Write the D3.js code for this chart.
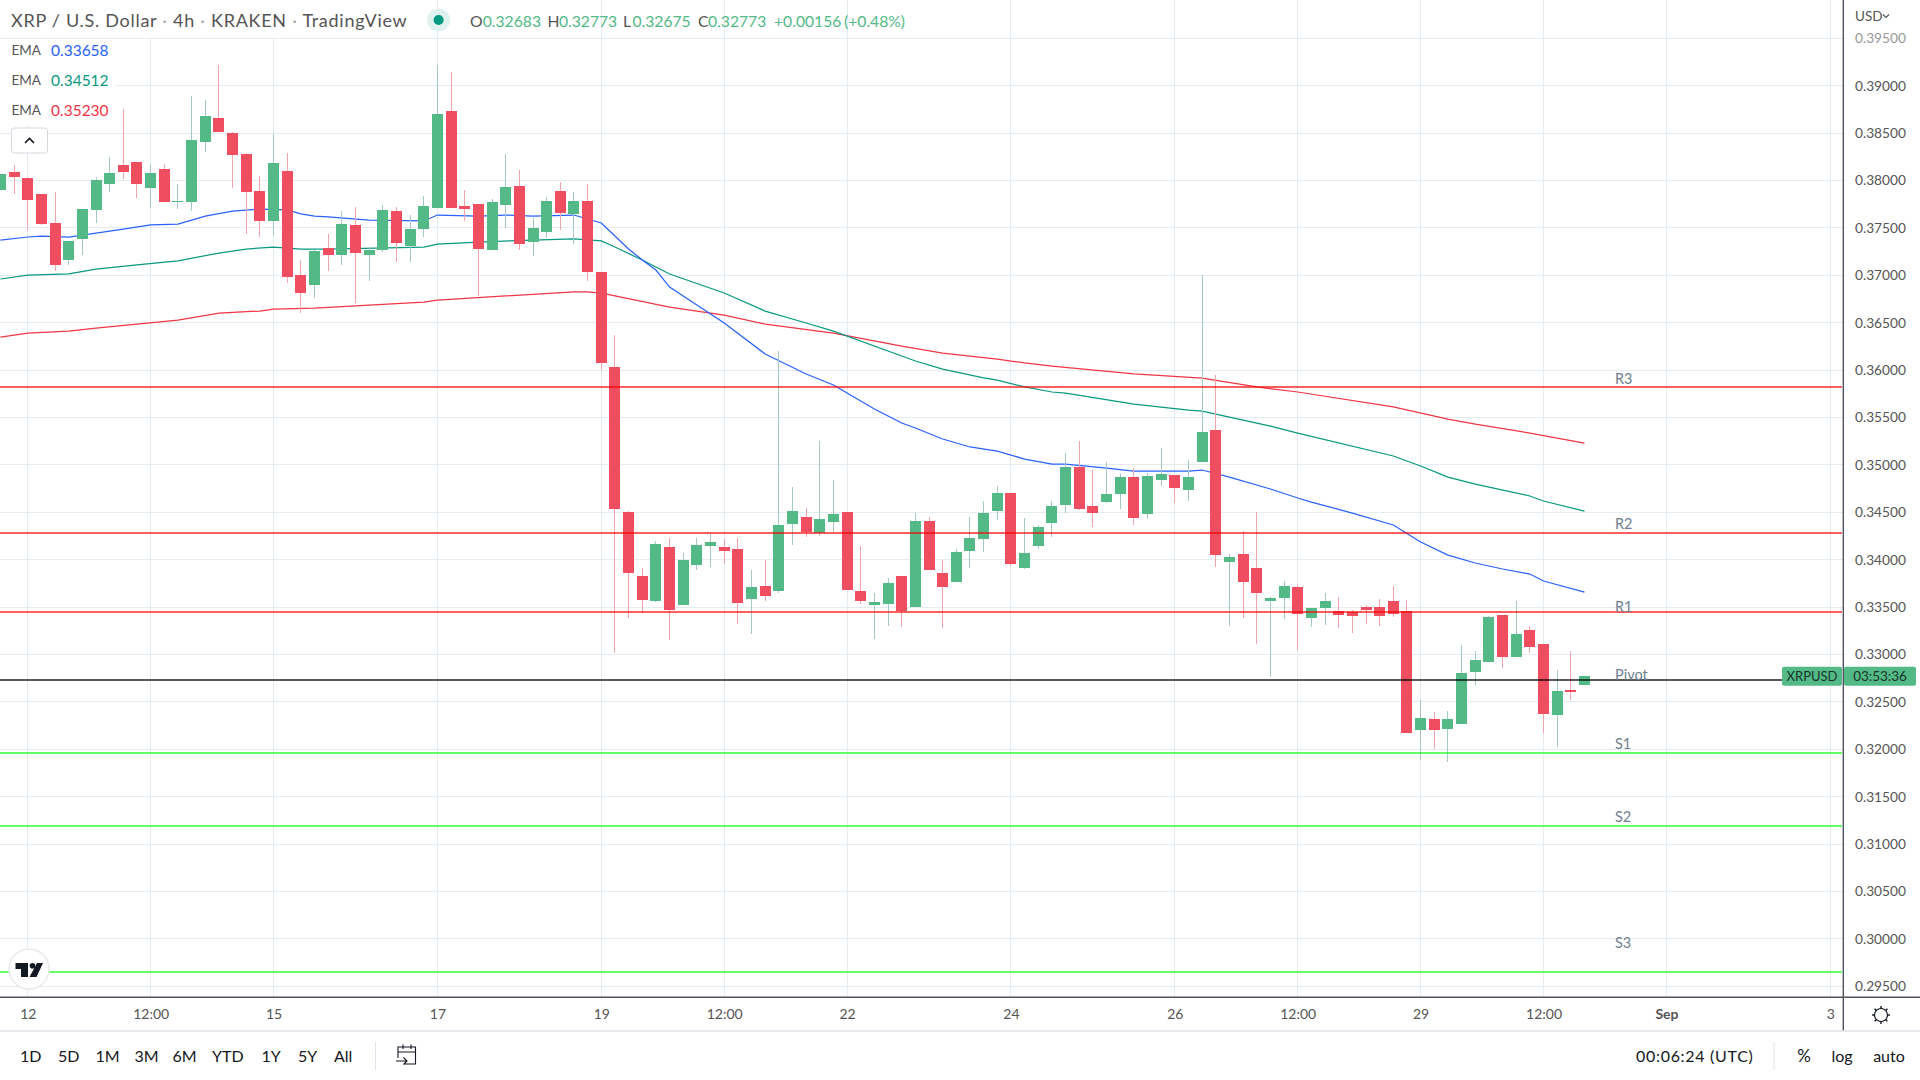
<!DOCTYPE html>
<html>
<head>
<meta charset="utf-8">
<title>XRP / U.S. Dollar</title>
<script src="https://cdnjs.cloudflare.com/ajax/libs/d3/7.8.5/d3.min.js"></script>
<style>
    html, body { margin: 0; padding: 0; background: #fff; }
    svg { display: block; }
    text { font-family: "Lato", sans-serif; }
</style>
</head>
<body>
<svg id="svgVis" width="1920" height="1080"></svg>
<script>
// Bar numbers count 4h candles from 12 Aug 00:00 UTC
const FIRST_BAR = -2;
const opens = [
    0.37900, 0.38090, 0.38026, 0.37857, 0.37552, 0.37161, 0.37383, 0.37689, 0.37963, 0.38163,
    0.38195, 0.37921, 0.38121, 0.37773, 0.37773, 0.38406, 0.38659, 0.38501, 0.38279, 0.37889,
    0.37573, 0.38100, 0.37003, 0.36897, 0.37288, 0.37214, 0.37531, 0.37214, 0.37267, 0.37678,
    0.37309, 0.37488, 0.37710, 0.38733, 0.37731, 0.37752, 0.37267, 0.37741, 0.37942, 0.37351,
    0.37457, 0.37889, 0.37647, 0.37784, 0.37035, 0.36033, 0.34503, 0.33828, 0.33564, 0.34134,
    0.33522, 0.33944, 0.34144, 0.34134, 0.34113, 0.33585, 0.33722, 0.33670, 0.34376, 0.34450,
    0.34281, 0.34397, 0.34503, 0.33670, 0.33522, 0.33532, 0.33828, 0.33501, 0.34408, 0.33859,
    0.33764, 0.34092, 0.34218, 0.34513, 0.34703, 0.33912, 0.34144, 0.34387, 0.34577, 0.34978,
    0.34566, 0.34608, 0.34693, 0.34872, 0.34482, 0.34840, 0.34893, 0.34735, 0.35030, 0.35368,
    0.33975, 0.34060, 0.33912, 0.33564, 0.33596, 0.33712, 0.33385, 0.33490, 0.33459, 0.33448,
    0.33501, 0.33501, 0.33564, 0.33459, 0.32203, 0.32319, 0.32214, 0.32267, 0.32815, 0.32921,
    0.33416, 0.32973, 0.33258, 0.33110, 0.32361, 0.32625, 0.32683,
];
const highs = [
    0.38069, 0.38163, 0.38037, 0.37857, 0.37879, 0.37362, 0.37699, 0.38037, 0.38248, 0.38754,
    0.38195, 0.38174, 0.38174, 0.37963, 0.38891, 0.38849, 0.39218, 0.38511, 0.38290, 0.38047,
    0.38490, 0.38290, 0.37161, 0.37267, 0.37436, 0.37678, 0.37720, 0.37288, 0.37741, 0.37720,
    0.37636, 0.37836, 0.39218, 0.39144, 0.37900, 0.37752, 0.37805, 0.38279, 0.38111, 0.37604,
    0.37826, 0.37984, 0.37879, 0.37963, 0.37035, 0.36370, 0.34513, 0.33912, 0.34197, 0.34229,
    0.34070, 0.34229, 0.34271, 0.34218, 0.34229, 0.33891, 0.33997, 0.36201, 0.34767, 0.34545,
    0.35252, 0.34840, 0.34503, 0.34144, 0.33648, 0.33807, 0.33828, 0.34492, 0.34450, 0.33997,
    0.34113, 0.34450, 0.34619, 0.34777, 0.34703, 0.34440, 0.34366, 0.34619, 0.35125, 0.35252,
    0.34946, 0.35030, 0.34914, 0.34967, 0.34914, 0.35178, 0.34893, 0.35051, 0.37003, 0.35948,
    0.34060, 0.34302, 0.34503, 0.33606, 0.33775, 0.33733, 0.33490, 0.33648, 0.33606, 0.33469,
    0.33522, 0.33585, 0.33722, 0.33575, 0.32520, 0.32393, 0.32404, 0.33100, 0.33037, 0.33406,
    0.33416, 0.33564, 0.33300, 0.33110, 0.32836, 0.33037, 0.32773,
];
const lows = [
    0.37900, 0.37857, 0.37478, 0.37531, 0.37045, 0.37109, 0.37214, 0.37552, 0.37879, 0.38016,
    0.37815, 0.37710, 0.37773, 0.37699, 0.37678, 0.38300, 0.38511, 0.37921, 0.37436, 0.37404,
    0.37414, 0.36919, 0.36602, 0.36760, 0.37045, 0.37109, 0.36708, 0.36940, 0.37246, 0.37140,
    0.37140, 0.37404, 0.37710, 0.37710, 0.37573, 0.36782, 0.37267, 0.37499, 0.37267, 0.37203,
    0.37393, 0.37478, 0.37330, 0.36940, 0.36001, 0.33016, 0.33385, 0.33437, 0.33553, 0.33153,
    0.33522, 0.33891, 0.33923, 0.33954, 0.33321, 0.33216, 0.33564, 0.33648, 0.34155, 0.34239,
    0.34250, 0.34281, 0.33680, 0.33532, 0.33163, 0.33300, 0.33290, 0.33501, 0.33891, 0.33279,
    0.33764, 0.33912, 0.34081, 0.34419, 0.33933, 0.33902, 0.34113, 0.34239, 0.34492, 0.34524,
    0.34345, 0.34598, 0.34535, 0.34366, 0.34429, 0.34777, 0.34598, 0.34619, 0.35030, 0.33923,
    0.33300, 0.33385, 0.33110, 0.32762, 0.33374, 0.33047, 0.33290, 0.33311, 0.33279, 0.33226,
    0.33321, 0.33300, 0.33395, 0.32172, 0.31887, 0.32003, 0.31866, 0.32267, 0.32678, 0.32921,
    0.32857, 0.32973, 0.33016, 0.32172, 0.32024, 0.32520, 0.32675,
];
const closes = [
    0.38069, 0.38037, 0.37794, 0.37541, 0.37109, 0.37362, 0.37699, 0.38005, 0.38079, 0.38090,
    0.37963, 0.38079, 0.37773, 0.37784, 0.38427, 0.38680, 0.38511, 0.38269, 0.37879, 0.37573,
    0.38184, 0.36982, 0.36813, 0.37256, 0.37214, 0.37541, 0.37235, 0.37267, 0.37689, 0.37341,
    0.37488, 0.37731, 0.38701, 0.37710, 0.37699, 0.37277, 0.37773, 0.37931, 0.37330, 0.37499,
    0.37784, 0.37657, 0.37784, 0.37035, 0.36075, 0.34535, 0.33859, 0.33575, 0.34165, 0.33469,
    0.33997, 0.34155, 0.34186, 0.34092, 0.33543, 0.33712, 0.33617, 0.34366, 0.34513, 0.34292,
    0.34429, 0.34482, 0.33680, 0.33564, 0.33553, 0.33754, 0.33459, 0.34408, 0.33891, 0.33712,
    0.34081, 0.34229, 0.34492, 0.34703, 0.33954, 0.34070, 0.34345, 0.34566, 0.34978, 0.34535,
    0.34492, 0.34693, 0.34872, 0.34440, 0.34883, 0.34904, 0.34756, 0.34872, 0.35347, 0.34049,
    0.34028, 0.33764, 0.33648, 0.33596, 0.33722, 0.33427, 0.33490, 0.33564, 0.33416, 0.33406,
    0.33469, 0.33406, 0.33427, 0.32172, 0.32330, 0.32203, 0.32319, 0.32805, 0.32942, 0.33395,
    0.32973, 0.33216, 0.33079, 0.32372, 0.32615, 0.32604, 0.32773,
];

const emaBlueBars = [-2, 0, 1, 3, 7, 9, 11, 13, 15, 17, 19, 20, 21, 22, 25, 29, 30, 33, 35, 37, 40, 42, 43, 44, 45, 46, 47, 51, 54, 57, 59, 62, 64, 65, 67, 69, 71, 73, 75, 76, 79, 81, 85, 86, 88, 91, 93, 94, 97, 100, 102, 104, 106, 108, 110, 111, 114];
const emaBlue = [0.37372, 0.37404, 0.37414, 0.37404, 0.37488, 0.37531, 0.37541, 0.37625, 0.37678, 0.37699, 0.37689, 0.37647, 0.37625, 0.37615, 0.37583, 0.37573, 0.37636, 0.37625, 0.37636, 0.37625, 0.37636, 0.37552, 0.37414, 0.37277, 0.37161, 0.37056, 0.36876, 0.36497, 0.36170, 0.35959, 0.35843, 0.35589, 0.35442, 0.35389, 0.35273, 0.35189, 0.35146, 0.35062, 0.35009, 0.35009, 0.34967, 0.34935, 0.34935, 0.34946, 0.34872, 0.34746, 0.34651, 0.34608, 0.34492, 0.34366, 0.34186, 0.34049, 0.33965, 0.33902, 0.33849, 0.33775, 0.33658];
const emaGreenBars = [-2, 0, 3, 5, 8, 11, 14, 16, 18, 20, 22, 29, 30, 33, 37, 40, 42, 43, 45, 47, 51, 54, 57, 59, 64, 65, 67, 70, 71, 73, 75, 76, 81, 85, 86, 91, 93, 100, 102, 104, 106, 110, 111, 114];
const emaGreen = [0.36961, 0.37003, 0.37014, 0.37066, 0.37109, 0.37151, 0.37235, 0.37277, 0.37298, 0.37277, 0.37277, 0.37298, 0.37330, 0.37351, 0.37372, 0.37383, 0.37362, 0.37298, 0.37161, 0.37014, 0.36813, 0.36623, 0.36497, 0.36412, 0.36149, 0.36096, 0.36011, 0.35917, 0.35895, 0.35822, 0.35769, 0.35758, 0.35642, 0.35579, 0.35568, 0.35410, 0.35336, 0.35094, 0.34988, 0.34872, 0.34798, 0.34672, 0.34619, 0.34512];
const emaRedBars = [-2, 0, 3, 5, 8, 11, 14, 17, 18, 21, 29, 30, 35, 40, 41, 42, 43, 47, 51, 54, 59, 64, 67, 71, 73, 75, 81, 86, 90, 93, 100, 104, 106, 110, 114];
const emaRed = [0.36349, 0.36391, 0.36412, 0.36444, 0.36486, 0.36528, 0.36602, 0.36623, 0.36644, 0.36655, 0.36718, 0.36739, 0.36782, 0.36824, 0.36824, 0.36813, 0.36782, 0.36665, 0.36581, 0.36486, 0.36391, 0.36254, 0.36180, 0.36117, 0.36075, 0.36043, 0.35959, 0.35916, 0.35822, 0.35769, 0.35611, 0.35484, 0.35431, 0.35336, 0.35230];

const levelNames = ["R3", "R2", "R1", "Pivot", "S1", "S2", "S3"];
const levelPrices = [0.35822, 0.34282, 0.33448, 0.32731, 0.31961, 0.31190, 0.29650];
const levelLabelPrices = [0.35905, 0.34376, 0.33500, 0.32783, 0.32055, 0.31285, 0.29956];
const levelColors = ["rgba(255,0,0,.63)", "rgba(255,0,0,.63)", "rgba(255,0,0,.63)", "rgba(0,0,0,.65)", "rgba(0,255,0,.6)", "rgba(0,255,0,.6)", "rgba(0,255,0,.6)"];

const priceTicks = d3.range(0, 21).map((n) => (295 + n * 5) / 1000);
const timeTicks = ["2022-08-12T00:00Z", "2022-08-13T12:00Z", "2022-08-15T00:00Z", "2022-08-17T00:00Z", "2022-08-19T00:00Z", "2022-08-20T12:00Z", "2022-08-22T00:00Z", "2022-08-24T00:00Z", "2022-08-26T00:00Z", "2022-08-27T12:00Z", "2022-08-29T00:00Z", "2022-08-30T12:00Z", "2022-09-01T00:00Z", "2022-09-03T00:00Z"];
const timeLabels = ["12", "12:00", "15", "17", "19", "12:00", "22", "24", "26", "12:00", "29", "12:00", "Sep", "3"];
const titleParts = ["XRP / U.S. Dollar", "4h", "KRAKEN", "TradingView"];
const rangeButtons = ["1D", "5D", "1M", "3M", "6M", "YTD", "1Y", "5Y", "All"];
const rangeButtonLeft = [20, 58, 95.5, 134.5, 172.5, 212, 261.5, 298, 334];

const svgInfo = {
    PLOT_RIGHT: 1843.3,
    PLOT_BOTTOM: 997.3,
    FOOT_TOP: 1031,
    UP: "#53b987",
    DOWN: "#ee4e5f",
    UP_WICK: "#a5c9c9",
    DOWN_WICK: "#f7a3ae",
    GRID: "#e4ecf2",
    AXIS: "#50535e",
    TEXT: "#555",
    DARK: "#131722",
    SLATE: "#708090",
};

const svg = d3.select("#svgVis");
const xScale = d3.scaleUtc()
    .domain([new Date("2022-08-12T00:00Z"), new Date("2022-09-03T00:00Z")])
    .range([27.75, 1830.3]);
const yScale = d3.scaleLinear().domain([0.295, 0.395]).range([986.3, 38.3]);

function barX(bar) {
    return xScale(new Date(Date.UTC(2022, 7, 12) + bar * 4 * 3600 * 1000));
}

drawGrid();
drawEma(emaRedBars, emaRed, "#f23645");
drawEma(emaGreenBars, emaGreen, "#089981");
drawEma(emaBlueBars, emaBlue, "#2962ff");
drawCandles();
drawLevels();
drawHeader();
drawAxes();
drawFooter();

function drawGrid() {
    const grid = svg.append("g")
        .attr("stroke", svgInfo.GRID)
        .attr("stroke-width", 1)
        .attr("shape-rendering", "crispEdges");
    grid.selectAll("line.h").data(priceTicks).enter().append("line")
        .attr("class", "h")
        .attr("x1", 0).attr("x2", svgInfo.PLOT_RIGHT)
        .attr("y1", (d) => yScale(d)).attr("y2", (d) => yScale(d));
    grid.selectAll("line.v").data(timeTicks).enter().append("line")
        .attr("class", "v")
        .attr("x1", (d) => xScale(new Date(d))).attr("x2", (d) => xScale(new Date(d)))
        .attr("y1", 0).attr("y2", svgInfo.PLOT_BOTTOM);
}

function drawEma(bars, values, color) {
    const line = d3.line().x((d) => barX(d)).y((d, i) => yScale(values[i]));
    svg.append("path")
        .attr("d", line(bars))
        .attr("fill", "none")
        .attr("stroke", color)
        .attr("stroke-width", 1.25);
}

function drawCandles() {
    const bars = opens.map((open, i) => ({
        x: barX(FIRST_BAR + i),
        open: open,
        high: highs[i],
        low: lows[i],
        close: closes[i],
        up: closes[i] >= open,
    }));
    const candle = svg.append("g")
        .attr("shape-rendering", "crispEdges")
        .selectAll("g").data(bars).enter().append("g");
    candle.append("line")
        .attr("x1", (d) => d.x).attr("x2", (d) => d.x)
        .attr("y1", (d) => yScale(d.high)).attr("y2", (d) => yScale(d.low))
        .attr("stroke", (d) => (d.up ? svgInfo.UP_WICK : svgInfo.DOWN_WICK))
        .attr("stroke-width", 1);
    candle.append("rect")
        .attr("x", (d) => d.x - 5.5)
        .attr("width", 11)
        .attr("y", (d) => yScale(Math.max(d.open, d.close)))
        .attr("height", (d) => Math.max(1, Math.abs(yScale(d.open) - yScale(d.close))))
        .attr("fill", (d) => (d.up ? svgInfo.UP : svgInfo.DOWN));
}

function drawLevels() {
    const level = svg.append("g");
    level.selectAll("line").data(levelPrices).enter().append("line")
        .attr("x1", 0).attr("x2", svgInfo.PLOT_RIGHT - 1)
        .attr("y1", (d) => yScale(d)).attr("y2", (d) => yScale(d))
        .attr("stroke", (d, i) => levelColors[i])
        .attr("stroke-width", 2)
        .attr("shape-rendering", "crispEdges");
    level.selectAll("text").data(levelNames).enter().append("text")
        .attr("x", 1615)
        .attr("y", (d, i) => yScale(levelLabelPrices[i]))
        .attr("dy", "0.36em")
        .attr("font-size", 14.5)
        .attr("fill", svgInfo.SLATE)
        .text((d) => d);
}

function addText(parent, x, y, str, size, color, anchor) {
    return parent.append("text")
        .attr("x", x).attr("y", y).attr("dy", "0.36em")
        .attr("font-size", size)
        .attr("fill", color)
        .attr("text-anchor", anchor || "start")
        .text(str);
}

function drawHeader() {
    const head = svg.append("g");
    // white backing behind the title and the study legend, the grid stops there
    head.append("rect").attr("x", 0).attr("y", 0).attr("width", 428).attr("height", 37.5).attr("fill", "#fff");
    head.append("rect").attr("x", 0).attr("y", 39).attr("width", 116).attr("height", 86).attr("fill", "#fff");

    const title = addText(head, 11, 21, "", 18, svgInfo.TEXT).attr("letter-spacing", 0.72);
    titleParts.forEach((part, i) => {
        if (i > 0) {
            title.append("tspan").attr("fill", "#a8abb3").text(" · ");
        }
        title.append("tspan").text(part);
    });
    head.append("circle").attr("cx", 438.6).attr("cy", 20).attr("r", 11.5).attr("fill", "#dff2ee");
    head.append("circle").attr("cx", 438.6).attr("cy", 20).attr("r", 5).attr("fill", "#089981");

    const ohlcLetters = [["O", 470], ["H", 547.5], ["L", 623], ["C", 698]];
    const ohlcValues = [["0.32683", 482.7], ["0.32773", 558.9], ["0.32675", 632.4], ["0.32773", 708], ["+0.00156", 774], ["(+0.48%)", 844]];
    ohlcLetters.forEach((d) => addText(head, d[1], 21, d[0], 15.7, svgInfo.TEXT));
    ohlcValues.forEach((d) => addText(head, d[1], 21, d[0], 15.7, svgInfo.UP));

    const emaLegend = [["0.33658", 50.5, "#2962ff"], ["0.34512", 80.5, "#089981"], ["0.35230", 110.5, "#f23645"]];
    emaLegend.forEach((d) => {
        addText(head, 11.5, d[1], "EMA", 13.5, svgInfo.TEXT);
        addText(head, 51, d[1], d[0], 15.5, d[2]);
    });

    head.append("rect")
        .attr("x", 11.5).attr("y", 128).attr("width", 36).attr("height", 25).attr("rx", 3)
        .attr("fill", "#fff").attr("stroke", "#d6d8e0");
    head.append("path")
        .attr("d", "M25 143 L29.5 138.5 L34 143")
        .attr("fill", "none").attr("stroke", svgInfo.DARK).attr("stroke-width", 1.6);
}

function drawAxes() {
    const yAxis = d3.axisRight(yScale)
        .tickValues(priceTicks)
        .tickSize(0)
        .tickPadding(11.7)
        .tickFormat(d3.format(".5f"));
    const yGroup = svg.append("g").attr("transform", `translate(${svgInfo.PLOT_RIGHT},0)`).call(yAxis);
    yGroup.select(".domain").remove();
    yGroup.selectAll("text")
        .attr("font-size", 13.7)
        .attr("font-family", "Lato")
        .attr("fill", (d) => (d == 0.395 ? "#999" : svgInfo.TEXT));

    const xAxis = d3.axisBottom(xScale)
        .tickValues(timeTicks.map((d) => new Date(d)))
        .tickSize(0)
        .tickPadding(12)
        .tickFormat((d, i) => timeLabels[i]);
    const xGroup = svg.append("g").attr("transform", `translate(0,${svgInfo.PLOT_BOTTOM})`).call(xAxis);
    xGroup.select(".domain").remove();
    xGroup.selectAll("text")
        .attr("font-size", 14).attr("fill", svgInfo.TEXT).attr("font-family", "Lato")
        .attr("font-weight", (d, i) => (timeLabels[i] == "Sep" ? "bold" : "normal"));

    svg.append("line")
        .attr("x1", svgInfo.PLOT_RIGHT).attr("x2", svgInfo.PLOT_RIGHT)
        .attr("y1", 0).attr("y2", svgInfo.FOOT_TOP)
        .attr("stroke", svgInfo.AXIS).attr("stroke-width", 1.4);
    svg.append("line")
        .attr("x1", 0).attr("x2", 1920)
        .attr("y1", svgInfo.PLOT_BOTTOM).attr("y2", svgInfo.PLOT_BOTTOM)
        .attr("stroke", svgInfo.AXIS).attr("stroke-width", 1.4);

    addText(svg, 1855, 16, "USD", 13.5, svgInfo.TEXT);
    svg.append("path")
        .attr("d", "M1883 14.5 L1886 17.5 L1889 14.5")
        .attr("fill", "none").attr("stroke", svgInfo.TEXT).attr("stroke-width", 1.2);

    // last price tags on the pivot line
    svg.append("rect").attr("x", 1782).attr("y", 666.7).attr("width", 60).attr("height", 19).attr("rx", 2).attr("fill", svgInfo.UP);
    svg.append("rect").attr("x", 1844).attr("y", 666.7).attr("width", 72).attr("height", 19).attr("rx", 2).attr("fill", svgInfo.UP);
    addText(svg, 1812, 676.5, "XRPUSD", 13, "#17352a", "middle");
    addText(svg, 1880, 676.5, "03:53:36", 13.5, "#17352a", "middle");
}

function drawFooter() {
    const foot = svg.append("g");
    foot.append("line")
        .attr("x1", 0).attr("x2", 1920)
        .attr("y1", svgInfo.FOOT_TOP).attr("y2", svgInfo.FOOT_TOP)
        .attr("stroke", "#e0e3eb").attr("stroke-width", 1.4);
    rangeButtons.forEach((d, i) => addText(foot, rangeButtonLeft[i], 1056, d, 16, svgInfo.DARK));
    [375.5, 1774].forEach((x) => {
        foot.append("line")
            .attr("x1", x).attr("x2", x).attr("y1", 1042).attr("y2", 1070)
            .attr("stroke", "#e0e3eb");
    });
    // go-to-date icon
    foot.append("path")
        .attr("d", "M398 1058 V1047 H415.5 V1064 H404 M398 1052 H415.5 M403 1044.5 V1049 M411 1044.5 V1049 M396 1061 H407 M403.5 1057.5 L407 1061 L403.5 1064.5")
        .attr("fill", "none").attr("stroke", svgInfo.DARK).attr("stroke-width", 1.1);

    addText(foot, 1636, 1056, "00:06:24 (UTC)", 16, svgInfo.DARK).attr("letter-spacing", 0.7);
    addText(foot, 1804, 1056, "%", 17, svgInfo.DARK, "middle");
    addText(foot, 1842, 1056, "log", 16, svgInfo.DARK, "middle");
    addText(foot, 1889, 1056, "auto", 16, svgInfo.DARK, "middle");

    // settings gear
    const gear = foot.append("g").attr("transform", "translate(1881,1015)");
    gear.append("circle").attr("r", 6.5).attr("fill", "none").attr("stroke", svgInfo.DARK).attr("stroke-width", 1.2);
    d3.range(0, 8).forEach((n) => {
        gear.append("line")
            .attr("y1", -6.5).attr("y2", -9)
            .attr("transform", `rotate(${n * 45})`)
            .attr("stroke", svgInfo.DARK).attr("stroke-width", 1.4);
    });

    // TradingView mark
    foot.append("circle").attr("cx", 29).attr("cy", 969).attr("r", 20).attr("fill", "#fff").attr("stroke", "#e8e9ed").attr("stroke-width", 1.4);
    foot.append("path").attr("d", "M15.5 963 H28 V977 H21 V969 H15.5 Z M37 963 H43 L36.5 977 H29.5 Z").attr("fill", svgInfo.DARK);
    foot.append("circle").attr("cx", 32.5).attr("cy", 965.8).attr("r", 2.8).attr("fill", svgInfo.DARK);
}
</script>
</body>
</html>
